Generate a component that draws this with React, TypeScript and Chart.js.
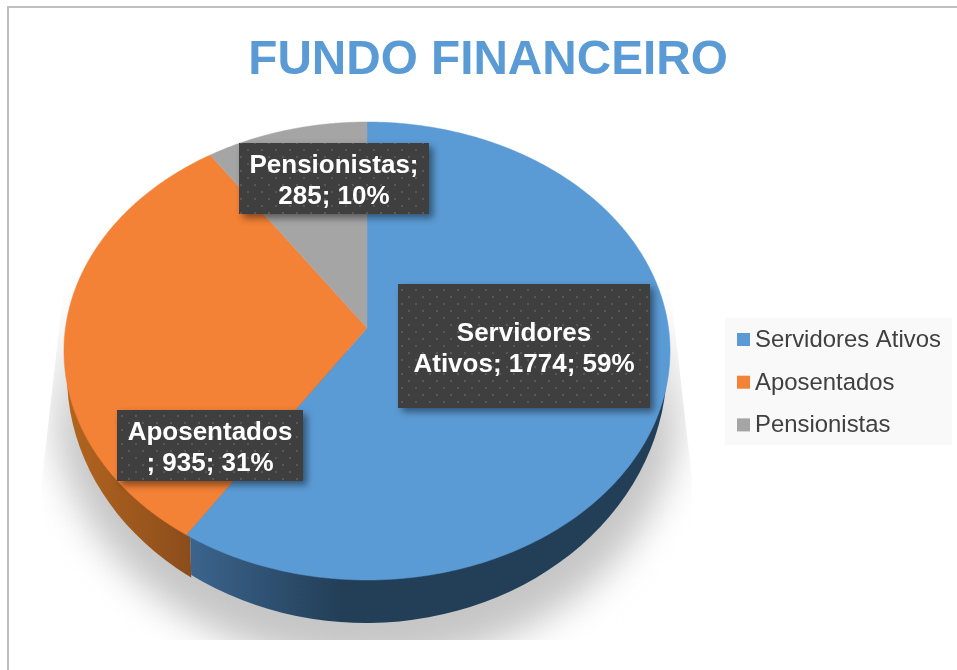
import React, { useEffect, useRef } from "react";
import { Chart, registerables } from "chart.js";

Chart.register(...registerables);

const categories = ["Servidores Ativos", "Aposentados", "Pensionistas"];
const values = [1774, 935, 285];
const sliceColors = ["#5b9bd5", "#f38136", "#a5a5a5"];
const labelLines = [
  ["Servidores", "Ativos; {v}; {p}%"],
  ["Aposentados", "; {v}; {p}%"],
  ["Pensionistas;", "{v}; {p}%"],
];
const labelBoxes = [
  [398, 284, 252, 124],
  [117, 410, 186, 71],
  [239, 143, 190, 71],
];

// Projective view of the pie disc
const P = { cx: 367, cy: 351, a: 301.5, b: 229, d: -23, k: -0.1004 };
const project = (angle: number) => {
  const t = angle + Math.PI / 2;
  const u = Math.sin(t);
  const v = -Math.cos(t);
  const w = 1 + P.k * v;
  return [P.cx + (P.a * u) / w, P.cy + (P.b * v + P.d) / w];
};

const makePattern = (ctx: CanvasRenderingContext2D) => {
  const c = document.createElement("canvas");
  c.width = 14;
  c.height = 14;
  const g = c.getContext("2d")!;
  g.fillStyle = "#3f3f3f";
  g.fillRect(0, 0, 14, 14);
  g.fillStyle = "#585858";
  g.fillRect(2, 2, 2, 2);
  g.fillRect(9, 9, 2, 2);
  return ctx.createPattern(c, "repeat")!;
};

const piePlugin = {
  id: "perspectivePie",
  beforeDraw(chart: any) {
    const ctx: CanvasRenderingContext2D = chart.ctx;
    ctx.save();
    ctx.fillStyle = "#ffffff";
    ctx.fillRect(0, 0, chart.width, chart.height);
    ctx.strokeStyle = "#bfbfbf";
    ctx.lineWidth = 2;
    ctx.beginPath();
    ctx.moveTo(8, chart.height);
    ctx.lineTo(8, 7);
    ctx.lineTo(chart.width, 7);
    ctx.stroke();
    // legend
    ctx.fillStyle = "#f9f9f9";
    ctx.fillRect(725, 318, 227, 127);
    ctx.font = "23.9px 'Liberation Sans'";
    ctx.textBaseline = "middle";
    chart.data.labels.forEach((label: string, i: number) => {
      const y = 339 + i * 42.7;
      ctx.fillStyle = chart.data.datasets[0].backgroundColor[i];
      ctx.fillRect(737, y - 6, 13, 13);
      ctx.fillStyle = "#404040";
      ctx.fillText(label, 755, y + 1.5);
    });
    ctx.restore();
  },
  beforeDatasetsDraw(chart: any) {
    const ctx: CanvasRenderingContext2D = chart.ctx;
    const meta = chart.getDatasetMeta(0);
    const arcs = meta.data;
    ctx.save();

    // ground shadow
    ctx.save();
    ctx.beginPath();
    ctx.moveTo(64, 285);
    ctx.lineTo(670, 285);
    ctx.lineTo(692, 480);
    ctx.lineTo(692, 640);
    ctx.lineTo(42, 640);
    ctx.lineTo(42, 480);
    ctx.closePath();
    ctx.clip();
    (ctx as any).filter = "blur(18px)";
    const sg = ctx.createLinearGradient(0, 290, 0, 440);
    sg.addColorStop(0, "rgba(198,198,198,0)");
    sg.addColorStop(1, "rgba(198,198,198,1)");
    ctx.fillStyle = sg;
    ctx.beginPath();
    ctx.ellipse(367, 395, 315, 270, 0, 0, Math.PI * 2);
    ctx.fill();
    (ctx as any).filter = "none";
    ctx.restore();

    // side wall
    const seam = project(arcs[0].endAngle);
    const seamBottom = [seam[0] + 5, seam[1] + 44];
    ctx.save();
    ctx.beginPath();
    ctx.moveTo(0, 351);
    ctx.lineTo(seam[0] - 1, 351);
    ctx.lineTo(seamBottom[0], seamBottom[1]);
    ctx.lineTo(seamBottom[0] + 3, 660);
    ctx.lineTo(0, 660);
    ctx.closePath();
    ctx.clip();
    let g = ctx.createLinearGradient(60, 0, 195, 0);
    g.addColorStop(0, "#b5661f");
    g.addColorStop(1, "#8a4c1c");
    ctx.fillStyle = g;
    ctx.beginPath();
    ctx.ellipse(367, 375, 300, 250, 0, 0, Math.PI * 2);
    ctx.fill();
    ctx.restore();

    ctx.save();
    ctx.beginPath();
    ctx.moveTo(957, 351);
    ctx.lineTo(seam[0] - 1, 351);
    ctx.lineTo(seamBottom[0], seamBottom[1]);
    ctx.lineTo(seamBottom[0] + 3, 660);
    ctx.lineTo(957, 660);
    ctx.closePath();
    ctx.clip();
    g = ctx.createLinearGradient(187, 0, 340, 0);
    g.addColorStop(0, "#3c658e");
    g.addColorStop(1, "#233f58");
    ctx.fillStyle = g;
    ctx.beginPath();
    ctx.ellipse(367, 366, 300, 257, -0.012, 0, Math.PI * 2);
    ctx.fill();
    ctx.restore();

    // top face, one slice per arc of the chart
    arcs.forEach((arc: any, i: number) => {
      const color = chart.data.datasets[0].backgroundColor[i];
      ctx.beginPath();
      ctx.moveTo(P.cx, P.cy + P.d);
      const n = 240;
      for (let s = 0; s <= n; s++) {
        const p = project(arc.startAngle + ((arc.endAngle - arc.startAngle) * s) / n);
        ctx.lineTo(p[0], p[1]);
      }
      ctx.closePath();
      ctx.fillStyle = color;
      ctx.strokeStyle = color;
      ctx.lineWidth = 0.5;
      ctx.fill();
      ctx.stroke();
    });

    // data labels
    const total = values.reduce((a, b) => a + b, 0);
    const pattern = makePattern(ctx);
    labelBoxes.forEach((box, i) => {
      const [x, y, w, h] = box;
      ctx.save();
      ctx.shadowColor = "rgba(0,0,0,0.45)";
      ctx.shadowBlur = 7;
      ctx.shadowOffsetX = 4;
      ctx.shadowOffsetY = 4;
      ctx.fillStyle = "#3f3f3f";
      ctx.fillRect(x, y, w, h);
      ctx.restore();
      ctx.fillStyle = pattern;
      ctx.fillRect(x, y, w, h);
      ctx.fillStyle = "#ffffff";
      ctx.font = "bold 26px 'Liberation Sans'";
      ctx.textAlign = "center";
      ctx.textBaseline = "middle";
      const pct = Math.round((values[i] / total) * 100);
      labelLines[i].forEach((line, j) => {
        const text = line.replace("{v}", String(values[i])).replace("{p}", String(pct));
        ctx.fillText(text, x + w / 2, y + h / 2 + (j - 0.5) * 31 + 3);
      });
    });
    ctx.restore();
    return false;
  },
  afterLayout(chart: any) {
    const t = chart.titleBlock;
    if (t) {
      t.left = 19;
      t.right = 957;
    }
  },
};

export default function App() {
  const ref = useRef<HTMLCanvasElement | null>(null);
  useEffect(() => {
    if (!ref.current) return;
    const chart = new Chart(ref.current, {
      type: "pie",
      data: {
        labels: categories,
        datasets: [{ data: values, backgroundColor: sliceColors, borderWidth: 0 }],
      },
      options: {
        responsive: false,
        animation: false,
        plugins: {
          legend: { display: false },
          tooltip: { enabled: false },
          title: {
            display: true,
            text: "FUNDO FINANCEIRO",
            color: "#5b9bd5",
            font: { family: "'Liberation Sans'", size: 47.7, weight: "bold" },
            padding: { top: 32, bottom: 10 },
          },
        },
      },
      plugins: [piePlugin],
    } as any);
    return () => chart.destroy();
  }, []);
  return (
    <div style={{ position: "absolute", left: 0, top: 0, width: 957, height: 670 }}>
      <canvas ref={ref} width={957} height={670} style={{ display: "block" }} />
    </div>
  );
}
